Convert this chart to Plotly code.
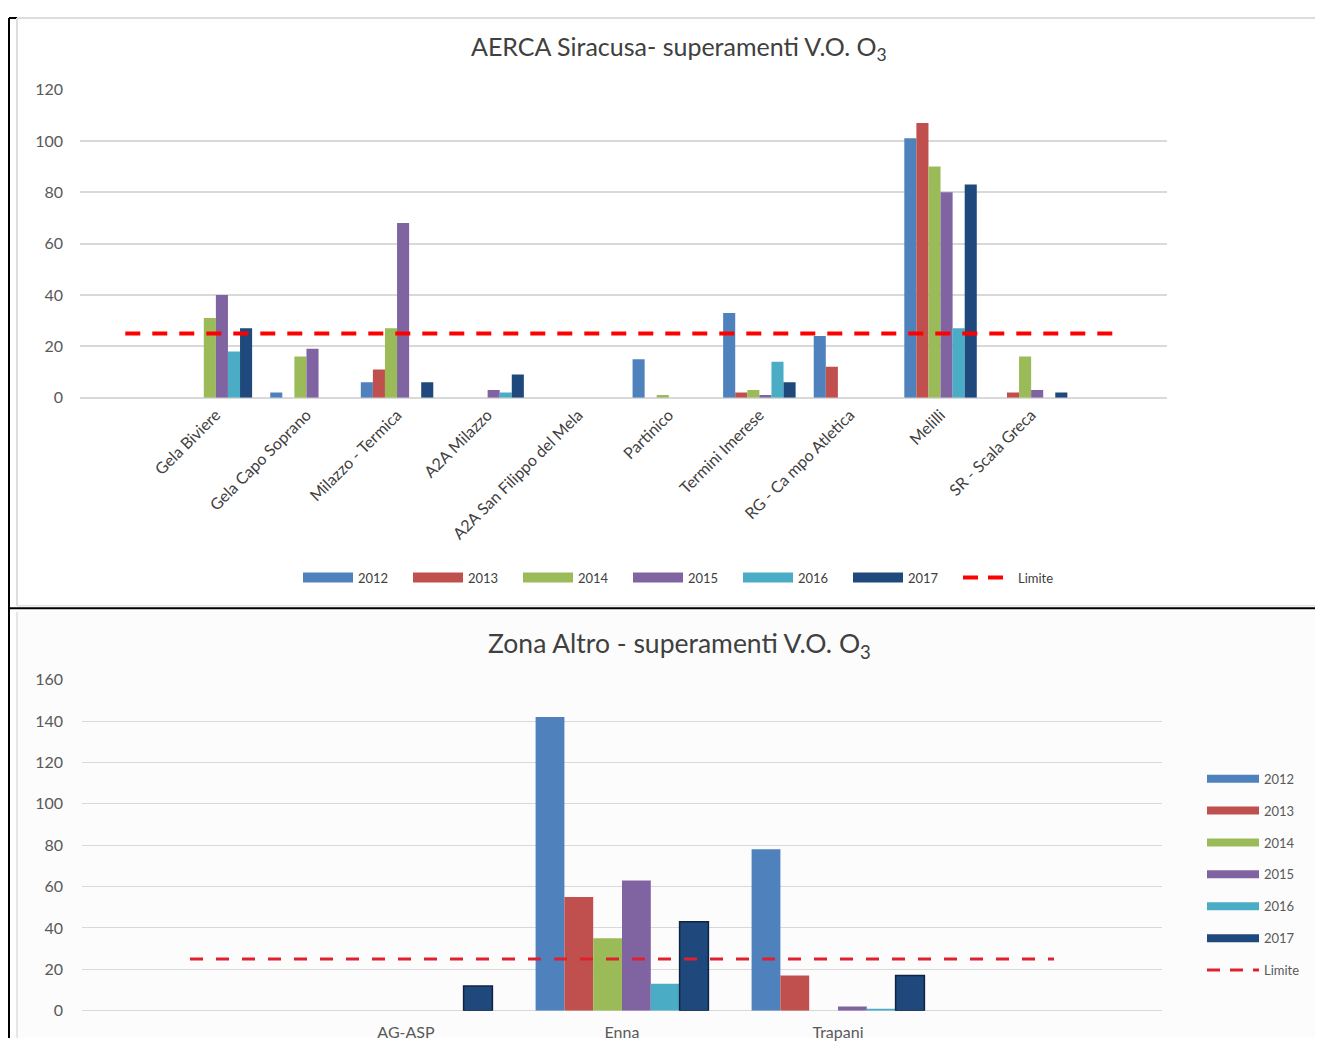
import plotly.graph_objects as go

# page body has an 8px margin, so the figure is a bit smaller than the window
OFF = 8
W, H = 1323 - 2 * OFF, 1055 - 2 * OFF
# measured on the rendered page: vertical position of the figure and its scale
Y0, YS = 17.45, 0.9815

years = ["2012", "2013", "2014", "2015", "2016", "2017"]
colors = ["#4F81BD", "#C0504D", "#9BBB59", "#8064A2", "#4BACC6", "#1F497D"]

# top chart - AERCA Siracusa
stations_sr = ["Gela Biviere", "Gela Capo Soprano", "Milazzo - Termica", "A2A Milazzo",
               "A2A San Filippo del Mela", "Partinico", "Termini Imerese",
               "RG - Ca mpo Atletica", "Melilli", "SR - Scala Greca"]
sr_2012 = [0, 2, 6, 0, 0, 15, 33, 24, 101, 0]
sr_2013 = [0, 0, 11, 0, 0, 0, 2, 12, 107, 2]
sr_2014 = [31, 16, 27, 0, 0, 1, 3, 0, 90, 16]
sr_2015 = [40, 19, 68, 3, 0, 0, 1, 0, 80, 3]
sr_2016 = [18, 0, 0, 2, 0, 0, 14, 0, 27, 0]
sr_2017 = [27, 0, 6, 9, 0, 0, 6, 0, 83, 2]
sr_series = [sr_2012, sr_2013, sr_2014, sr_2015, sr_2016, sr_2017]

# bottom chart - Zona Altro
stations_za = ["AG-ASP", "Enna", "Trapani"]
za_2012 = [0, 142, 78]
za_2013 = [0, 55, 17]
za_2014 = [0, 35, 0]
za_2015 = [0, 63, 2]
za_2016 = [0, 13, 1]
za_2017 = [12, 43, 17]
za_series = [za_2012, za_2013, za_2014, za_2015, za_2016, za_2017]

limite = 25


# convert window pixel positions to paper fractions
def px_x(p):
    return (p - OFF) / W


def px_y(p):
    return min(1, 1 - ((p - Y0) / YS) / H)


FONT = "Lato, Open Sans, sans-serif"

fig = go.Figure()

# top chart bars
for yr, col, vals in zip(years, colors, sr_series):
    fig.add_trace(go.Bar(x=list(range(len(stations_sr))), y=vals, name=yr,
                         marker=dict(color=col, line=dict(width=0)),
                         xaxis="x", yaxis="y", showlegend=False))
# limit line spans the padded (empty) first and last categories, like the excel sheet
fig.add_trace(go.Scatter(x=[-1, len(stations_sr)], y=[limite, limite], mode="lines",
                         line=dict(color="#FF0000", width=4, dash="15px,12px"),
                         name="Limite", xaxis="x", yaxis="y", showlegend=False))

# bottom chart bars
for yr, col, vals in zip(years, colors, za_series):
    outline = dict(width=1.5, color="#0F2440") if yr == "2017" else dict(width=0)
    fig.add_trace(go.Bar(x=list(range(len(stations_za))), y=vals, name=yr,
                         marker=dict(color=col, line=outline),
                         xaxis="x2", yaxis="y2", showlegend=False))
fig.add_trace(go.Scatter(x=[-1, len(stations_za)], y=[limite, limite], mode="lines",
                         line=dict(color="#E0202E", width=3, dash="13px,13px"),
                         name="Limite", xaxis="x2", yaxis="y2", showlegend=False))

# legend entries (wide rectangles like excel)
for yr, col in zip(years, colors):
    fig.add_trace(go.Scatter(x=[None], y=[None], mode="lines", name=yr,
                             line=dict(color=col, width=10), legend="legend",
                             xaxis="x", yaxis="y"))
fig.add_trace(go.Scatter(x=[None], y=[None], mode="lines", name="Limite",
                         line=dict(color="#FF0000", width=4, dash="15px,10px"),
                         legend="legend", xaxis="x", yaxis="y"))
for yr, col in zip(years, colors):
    fig.add_trace(go.Scatter(x=[None], y=[None], mode="lines", name=yr,
                             line=dict(color=col, width=8), legend="legend2",
                             legendgroup="b" + yr, xaxis="x2", yaxis="y2"))
fig.add_trace(go.Scatter(x=[None], y=[None], mode="lines", name="Limite",
                         line=dict(color="#E0202E", width=3, dash="13px,10px"),
                         legend="legend2", legendgroup="blim", xaxis="x2", yaxis="y2"))

grid = "#D9D9D9"
tickfont = dict(family=FONT, size=16, color="#595959")

fig.update_layout(
    width=W, height=H,
    margin=dict(l=0, r=0, t=0, b=0),
    paper_bgcolor="white", plot_bgcolor="rgba(0,0,0,0)",
    barmode="group", bargap=0.2, bargroupgap=0,
    font=dict(family=FONT, color="#404040"),
    xaxis=dict(domain=[px_x(80), px_x(1167)], anchor="y",
               range=[-1.5, len(stations_sr) + 0.5],
               tickmode="array", tickvals=list(range(len(stations_sr))), ticktext=stations_sr,
               tickangle=-45, showgrid=False, zeroline=False, showline=False,
               tickfont=dict(family=FONT, size=16, color="#404040"), ticklabelstandoff=4),
    yaxis=dict(domain=[px_y(397), px_y(89)], anchor="x", range=[0, 120], dtick=20,
               gridcolor=grid, gridwidth=1.5, zeroline=True, zerolinecolor=grid,
               zerolinewidth=1.5, showline=False, tickfont=tickfont, ticklabelstandoff=16),
    xaxis2=dict(domain=[px_x(82), px_x(1162)], anchor="y2",
                range=[-1.5, len(stations_za) + 0.5],
                tickmode="array", tickvals=list(range(len(stations_za))), ticktext=stations_za,
                showgrid=False, zeroline=False, showline=False, tickfont=tickfont,
                ticklabelstandoff=10),
    yaxis2=dict(domain=[px_y(1010), px_y(679)], anchor="x2", range=[0, 160], dtick=20,
                gridcolor=grid, gridwidth=1.2, zeroline=True, zerolinecolor=grid,
                zerolinewidth=1.2, showline=False, tickfont=tickfont, ticklabelstandoff=18),
    legend=dict(orientation="h", x=px_x(683), xanchor="center", y=px_y(577), yanchor="middle",
                font=dict(size=13, color="#404040"), itemwidth=50, entrywidth=45,
                bgcolor="rgba(0,0,0,0)"),
    legend2=dict(orientation="v", x=px_x(1202), xanchor="left", y=px_y(763), yanchor="top",
                 font=dict(size=13, color="#595959"), itemwidth=52, tracegroupgap=12,
                 bgcolor="rgba(0,0,0,0)"),
    annotations=[
        dict(text="AERCA Siracusa- superamenti V.O. O<sub>3</sub>", x=px_x(679), y=px_y(47),
             xref="paper", yref="paper", showarrow=False, yanchor="middle",
             font=dict(size=25, color="#404040")),
        dict(text="Zona Altro - superamenti V.O. O<sub>3</sub>", x=px_x(679), y=px_y(644),
             xref="paper", yref="paper", showarrow=False, yanchor="middle",
             font=dict(size=26.5, color="#404040")),
    ],
    shapes=[
        # bottom panel has a faint grey fill
        dict(type="rect", xref="paper", yref="paper", x0=px_x(17), x1=1, y0=0, y1=px_y(610),
             fillcolor="#FCFCFC", line=dict(width=0), layer="below"),
        # panel frames
        dict(type="line", xref="paper", yref="paper", x0=px_x(9), x1=1, y0=px_y(12), y1=px_y(12),
             line=dict(color="black", width=2)),
        dict(type="line", xref="paper", yref="paper", x0=px_x(9), x1=px_x(9), y0=px_y(12), y1=0,
             line=dict(color="black", width=2)),
        dict(type="line", xref="paper", yref="paper", x0=px_x(9), x1=1, y0=px_y(607.5), y1=px_y(607.5),
             line=dict(color="black", width=2)),
        dict(type="line", xref="paper", yref="paper", x0=px_x(17), x1=1, y0=px_y(15), y1=px_y(15),
             line=dict(color="#DDDDDD", width=2)),
        dict(type="line", xref="paper", yref="paper", x0=px_x(17), x1=px_x(17), y0=px_y(15), y1=px_y(605),
             line=dict(color="#DDDDDD", width=2)),
        dict(type="line", xref="paper", yref="paper", x0=px_x(17), x1=1, y0=px_y(605), y1=px_y(605),
             line=dict(color="#E3E3E3", width=1.5)),
        dict(type="line", xref="paper", yref="paper", x0=px_x(17), x1=px_x(17), y0=px_y(611), y1=0,
             line=dict(color="#E6E6E6", width=2)),
    ],
)

fig.write_html("out.html")
